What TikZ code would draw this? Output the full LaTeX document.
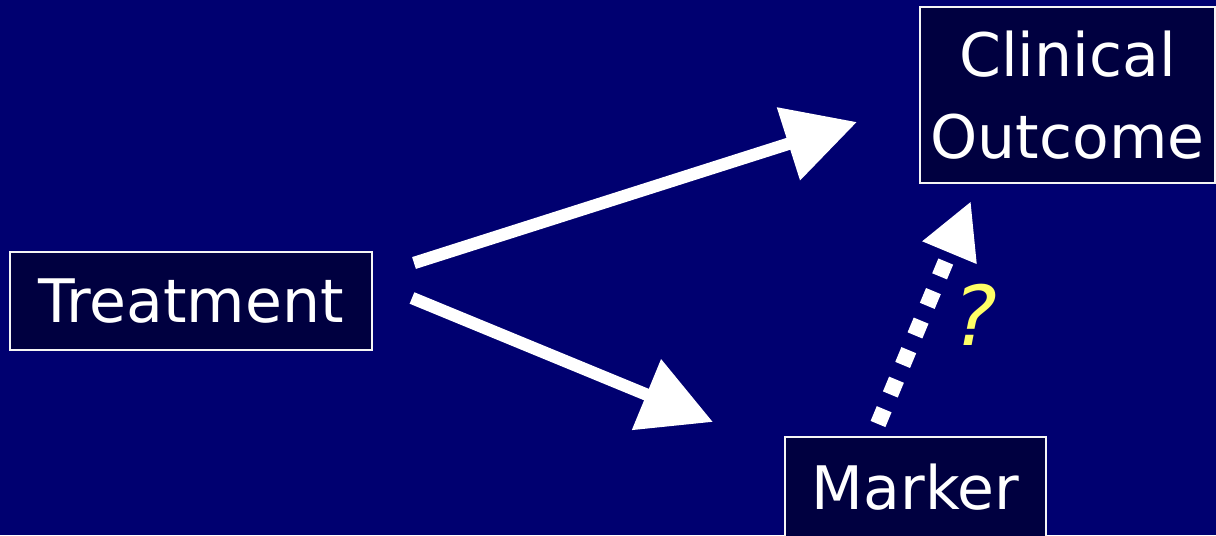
\documentclass[tikz,border=0pt]{standalone}
\usepackage{fontspec}
\setmainfont{DejaVu Sans}
\usetikzlibrary{arrows.meta}
\definecolor{Slide}{HTML}{000070}
\definecolor{BoxFill}{HTML}{000040}
\definecolor{Query}{HTML}{FFFF66}

\begin{document}
\begin{tikzpicture}[x=0.75pt,y=0.75pt,
  box/.style={draw=white!92!gray, line width=1.5pt, fill=BoxFill,
    text=white, font=\fontsize{45}{61}\selectfont,
    inner sep=0pt, align=center},
  link/.style={draw=white, line width=9.3pt,
    -{Triangle[length=54pt,width=55pt]}},
  hint/.style={draw=white, line width=12pt,
    dash pattern=on 12pt off 12pt,
    -{Triangle[length=42pt,width=41pt]}}]

  \useasboundingbox (0,0) rectangle (1216,535);
  \fill[Slide] (0,0) rectangle (1216,535);

  \node[box, minimum width=271.5pt, minimum height=73.5pt] (treat)
    at (191,234) {Treatment};
  \node[box, minimum width=221.25pt, minimum height=132pt] (clin)
    at (1067.5,440) {Clinical\\Outcome};
  \node[box, minimum width=195.75pt, minimum height=75pt] (marker)
    at (915.5,48) {Marker};

  \draw[link] ([shift={(41,38)}]treat.east)
    -- ([shift={(-62,-27)}]clin.west);
  \draw[link] ([shift={(39,3)}]treat.east)
    -- ([shift={(-71,65)}]marker.west);
  \draw[hint] ([shift={(-37.5,12)}]marker.north)
    -- ([shift={(-96.5,-17)}]clin.south);

  \node[text=Query, font=\fontsize{62}{62}\selectfont\itshape] (query)
    at (975,220) {?};

\end{tikzpicture}
\end{document}
